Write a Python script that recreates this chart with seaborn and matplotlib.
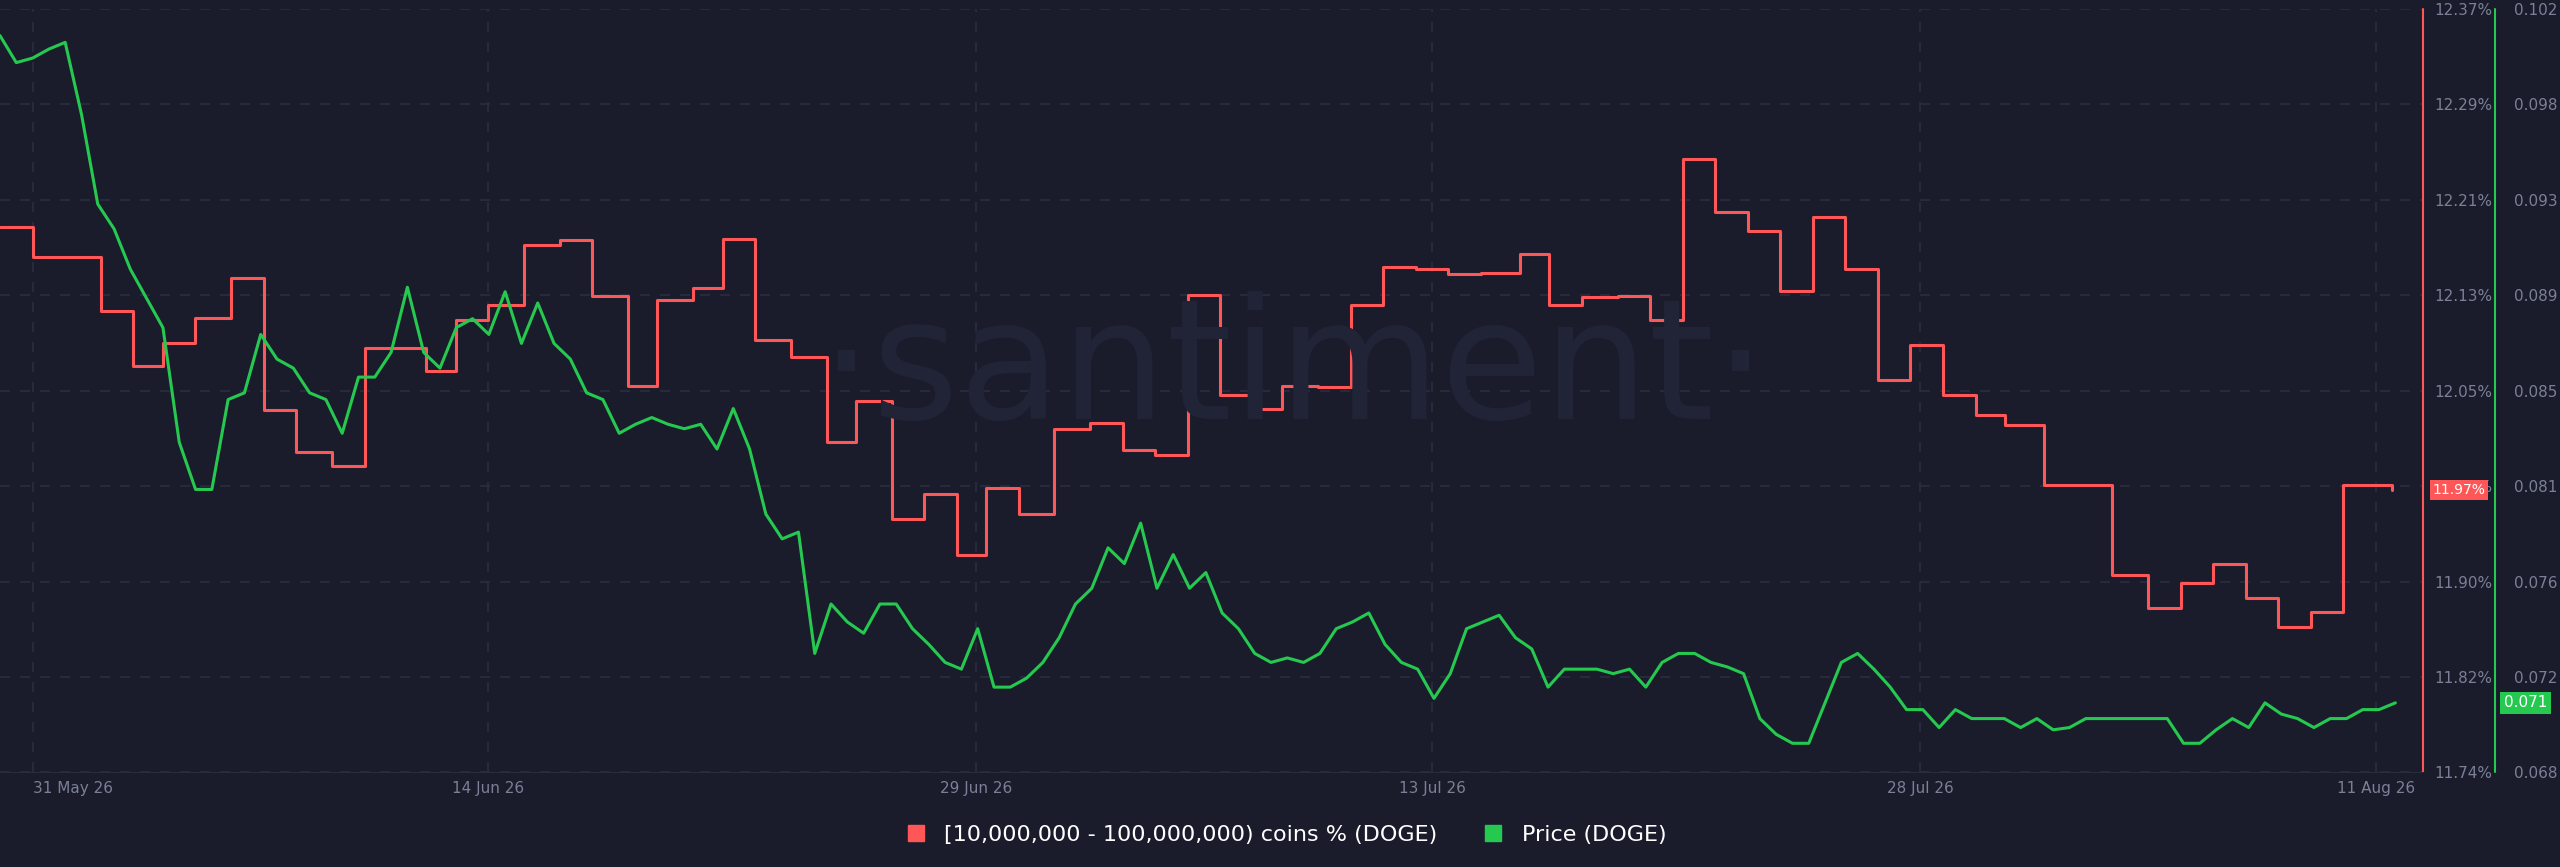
import numpy as np
import pandas as pd
import matplotlib
matplotlib.use("Agg")
import matplotlib.pyplot as plt
from matplotlib.lines import Line2D
import matplotlib.dates as mdates
import seaborn as sns

BG = "#1a1c2c"
RED = "#ff5757"
GREEN = "#26c94f"
TXT = "#7b8096"
GRID = "#2a2d3e"

START = pd.Timestamp("2026-05-30")

# holder share steps: (days after 30 May, %)
red_days = [0, 1.0, 3.1, 4.1, 5.0, 6.0, 7.1, 8.1, 9.1, 10.2, 11.2, 13.1, 14.0, 15.0, 16.1,
            17.2, 18.2, 19.3, 20.2, 21.3, 22.2, 23.2, 24.3, 25.4, 26.3, 27.4, 28.4, 29.4,
            30.3, 31.3, 32.4, 33.5, 34.5, 35.5, 36.5, 37.5, 38.5, 39.4, 40.5, 41.5, 42.5,
            43.5, 44.5, 45.5, 46.7, 47.6, 48.6, 49.7, 50.7, 51.7, 52.7, 53.7, 54.7, 55.7,
            56.7, 57.7, 58.7, 59.7, 60.7, 61.6, 62.8, 64.9, 66.0, 67.0, 68.0, 69.0, 70.0,
            71.0, 72.0, 73.5]
red_vals = [12.190, 12.165, 12.121, 12.075, 12.094, 12.115, 12.148, 12.039, 12.004, 11.993,
            12.090, 12.071, 12.113, 12.126, 12.175, 12.179, 12.133, 12.059, 12.130, 12.140,
            12.180, 12.097, 12.083, 12.013, 12.046, 11.949, 11.970, 11.919, 11.975, 11.953,
            12.023, 12.028, 12.006, 12.002, 12.134, 12.051, 12.040, 12.059, 12.058, 12.126,
            12.157, 12.155, 12.151, 12.152, 12.168, 12.126, 12.132, 12.133, 12.113, 12.246,
            12.202, 12.187, 12.137, 12.198, 12.155, 12.064, 12.093, 12.051, 12.035, 12.027,
            11.977, 11.903, 11.876, 11.896, 11.912, 11.884, 11.860, 11.872, 11.977, 11.973]

# DOGE price, roughly every 12h
price = [0.1008, 0.0996, 0.0998, 0.1002, 0.1005, 0.0973, 0.0933, 0.0922, 0.0904, 0.0891,
         0.0878, 0.0827, 0.0806, 0.0806, 0.0846, 0.0849, 0.0875, 0.0864, 0.0860, 0.0849,
         0.0846, 0.0831, 0.0856, 0.0856, 0.0867, 0.0896, 0.0867, 0.0860, 0.0878, 0.0882,
         0.0875, 0.0894, 0.0871, 0.0889, 0.0871, 0.0864, 0.0849, 0.0846, 0.0831, 0.0835,
         0.0838, 0.0835, 0.0833, 0.0835, 0.0824, 0.0842, 0.0824, 0.0795, 0.0784, 0.0787,
         0.0733, 0.0755, 0.0747, 0.0742, 0.0755, 0.0755, 0.0744, 0.0737, 0.0729, 0.0726,
         0.0744, 0.0718, 0.0718, 0.0722, 0.0729, 0.0740, 0.0755, 0.0762, 0.0780, 0.0773,
         0.0791, 0.0762, 0.0777, 0.0762, 0.0769, 0.0751, 0.0744, 0.0733, 0.0729, 0.0731,
         0.0729, 0.0733, 0.0744, 0.0747, 0.0751, 0.0737, 0.0729, 0.0726, 0.0713, 0.0724,
         0.0744, 0.0747, 0.0750, 0.0740, 0.0735, 0.0718, 0.0726, 0.0726, 0.0726, 0.0724,
         0.0726, 0.0718, 0.0729, 0.0733, 0.0733, 0.0729, 0.0727, 0.0724, 0.0704, 0.0697,
         0.0693, 0.0693, 0.0711, 0.0729, 0.0733, 0.0726, 0.0718, 0.0708, 0.0708, 0.0700,
         0.0708, 0.0704, 0.0704, 0.0704, 0.0700, 0.0704, 0.0699, 0.0700, 0.0704, 0.0704,
         0.0704, 0.0704, 0.0704, 0.0704, 0.0693, 0.0693, 0.0699, 0.0704, 0.0700, 0.0711,
         0.0706, 0.0704, 0.0700, 0.0704, 0.0704, 0.0708, 0.0708, 0.0711]

red_ticks = [12.37, 12.29, 12.21, 12.13, 12.05, 11.97, 11.90, 11.82, 11.74]
green_ticks = ["0.102", "0.098", "0.093", "0.089", "0.085", "0.081", "0.076", "0.072", "0.068"]
date_ticks = ["2026-05-31", "2026-06-14", "2026-06-29", "2026-07-13", "2026-07-28", "2026-08-11"]

red_df = pd.DataFrame({"time": START + pd.to_timedelta(red_days, unit="D"), "share": red_vals})
green_df = pd.DataFrame({"time": pd.date_range(START, START + pd.Timedelta(days=73.6), periods=len(price)),
                         "price": price})

sns.set_style("dark")
fig = plt.figure(figsize=(25.6, 8.67), dpi=100, facecolor=BG)
ax = fig.add_axes([0.0, 0.109, 0.9465, 0.881])
ax.set_facecolor(BG)
ax2 = ax.twinx()

fig.text(0.505, 0.57, "·santiment·", ha="center", va="center", fontsize=120,
         color="#212436", zorder=0)

sns.lineplot(data=red_df, x="time", y="share", ax=ax, color=RED, lw=2.2, drawstyle="steps-post")
sns.lineplot(data=green_df, x="time", y="price", ax=ax2, color=GREEN, lw=2.2)

r_lo, r_hi = 11.74, 12.37
g_lo, g_hi = 0.068, 0.102
ax.set_ylim(r_lo, r_hi)
ax2.set_ylim(g_lo, g_hi)
ax.set_xlim(START, START + pd.Timedelta(days=74.45))

ax.set_yticks(np.linspace(r_hi, r_lo, len(red_ticks)))
ax.set_yticklabels([f"{v:.2f}%" for v in red_ticks])
ax2.set_yticks(np.linspace(g_hi, g_lo, len(green_ticks)))
ax2.set_yticklabels(green_ticks)

ax.yaxis.tick_right()
ax.set_xticks(pd.to_datetime(date_ticks))
ax.xaxis.set_major_formatter(mdates.DateFormatter("%-d %b %y"))
ax.tick_params(axis="x", colors=TXT, labelsize=11, length=0, pad=6)
ax.tick_params(axis="y", colors=TXT, labelsize=11, length=0, pad=8)
ax2.tick_params(axis="y", colors=TXT, labelsize=11, length=0, pad=14 + 0.0296 * 0.9465 * 2560 * 0.72)
fig.canvas.draw()
ax.get_xticklabels()[0].set_horizontalalignment("left")

ax.grid(True, color=GRID, ls=(0, (6, 6)), lw=1.2)
ax2.grid(False)
ax.set_xlabel("")
ax.set_ylabel("")
ax2.set_ylabel("")

for s in ["top", "left", "right"]:
    ax.spines[s].set_visible(False)
    ax2.spines[s].set_visible(False)
ax.spines["bottom"].set_color(GRID)
ax2.spines["bottom"].set_visible(False)
ax.plot([1, 1], [0, 1], transform=ax.transAxes, color=RED, lw=1.5, clip_on=False)
ax.plot([1.0296, 1.0296], [0, 1], transform=ax.transAxes, color=GREEN, lw=1.5, clip_on=False)

# last value badges
ax.text(1.004, red_vals[-1], f"{red_vals[-1]:.2f}%", transform=ax.get_yaxis_transform(),
        va="center", ha="left", fontsize=10, color="white",
        bbox=dict(boxstyle="square,pad=0.2", fc=RED, ec="none"))
ax2.text(1.0335, price[-1], f"{price[-1]:.3f}", transform=ax2.get_yaxis_transform(),
         va="center", ha="left", fontsize=11, color="white",
         bbox=dict(boxstyle="square,pad=0.25", fc=GREEN, ec="none"))

handles = [Line2D([], [], marker="s", ls="", color=RED, markersize=12),
           Line2D([], [], marker="s", ls="", color=GREEN, markersize=12)]
fig.legend(handles, ["[10,000,000 - 100,000,000) coins % (DOGE)", "Price (DOGE)"],
           loc="center", bbox_to_anchor=(0.5, 0.037), ncol=2, frameon=False,
           fontsize=16, labelcolor="white", handletextpad=0.3, columnspacing=1.5)

fig.savefig("out.png", dpi=100, facecolor=BG)
